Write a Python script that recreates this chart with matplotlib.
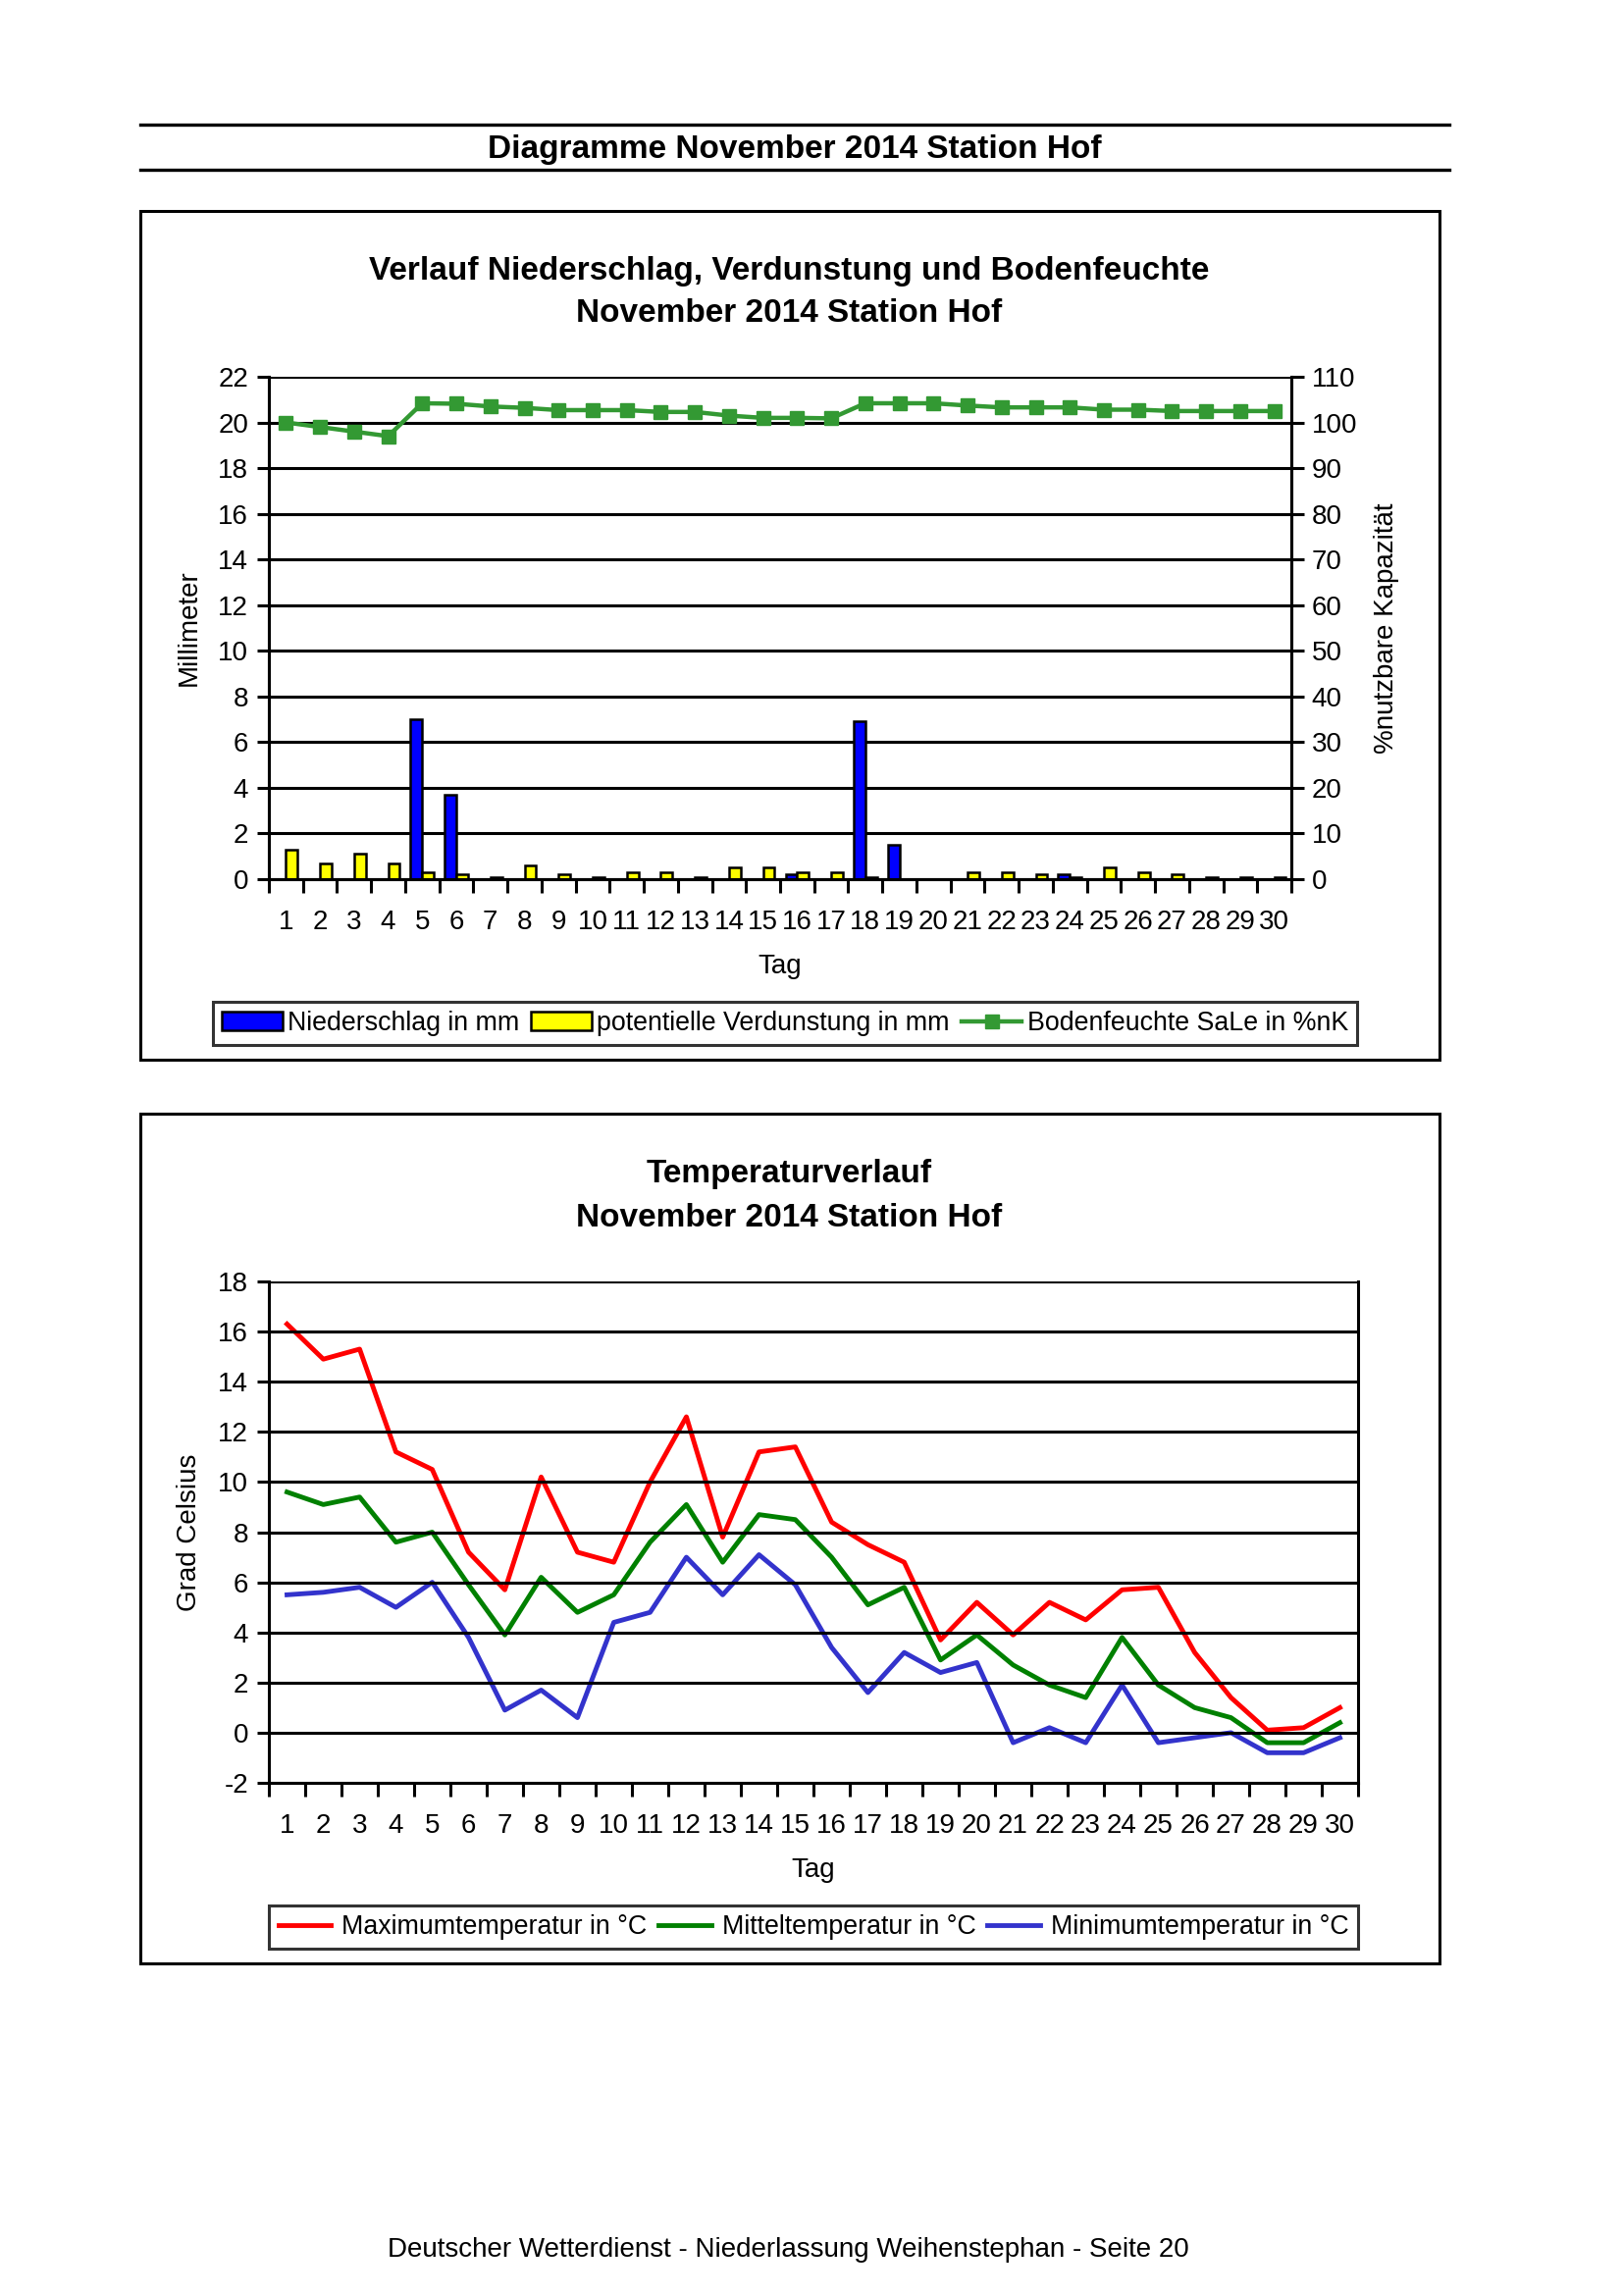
import matplotlib
matplotlib.use("Agg")
import matplotlib.pyplot as plt
from matplotlib.patches import Rectangle
from matplotlib.lines import Line2D
import numpy as np

plt.rcParams['font.family'] = ['Liberation Sans', 'DejaVu Sans']
plt.rcParams['axes.unicode_minus'] = False

# ---------------- data ----------------
days = list(range(1, 31))
niederschlag = [0, 0, 0, 0, 7.0, 3.7, 0, 0, 0, 0,
                0, 0, 0, 0, 0, 0.2, 0, 6.9, 1.5, 0,
                0, 0, 0, 0.2, 0, 0, 0, 0, 0, 0]
verdunstung = [1.3, 0.7, 1.1, 0.7, 0.3, 0.2, 0.1, 0.6, 0.2, 0.1,
               0.3, 0.3, 0.1, 0.5, 0.5, 0.3, 0.3, 0.1, 0.0, 0.0,
               0.3, 0.3, 0.2, 0.1, 0.5, 0.3, 0.2, 0.1, 0.1, 0.1]
bodenfeuchte = [100, 99, 98, 97, 104.2, 104.1, 103.5, 103.2, 102.7, 102.7,
                102.7, 102.3, 102.3, 101.5, 101, 101, 100.9, 104.2, 104.2, 104.2,
                103.7, 103.3, 103.3, 103.3, 102.8, 102.8, 102.5, 102.5, 102.5, 102.5]

t_max = [16.3, 14.9, 15.3, 11.2, 10.5, 7.2, 5.7, 10.2, 7.2, 6.8,
         10.0, 12.6, 7.8, 11.2, 11.4, 8.4, 7.5, 6.8, 3.7, 5.2,
         3.9, 5.2, 4.5, 5.7, 5.8, 3.2, 1.4, 0.1, 0.2, 1.0]
t_mit = [9.6, 9.1, 9.4, 7.6, 8.0, 5.9, 3.9, 6.2, 4.8, 5.5,
         7.6, 9.1, 6.8, 8.7, 8.5, 7.0, 5.1, 5.8, 2.9, 3.9,
         2.7, 1.9, 1.4, 3.8, 1.9, 1.0, 0.6, -0.4, -0.4, 0.4]
t_min = [5.5, 5.6, 5.8, 5.0, 6.0, 3.8, 0.9, 1.7, 0.6, 4.4,
         4.8, 7.0, 5.5, 7.1, 5.9, 3.4, 1.6, 3.2, 2.4, 2.8,
         -0.4, 0.2, -0.4, 1.9, -0.4, -0.2, 0.0, -0.8, -0.8, -0.2]

W, H = 1653, 2340
fig = plt.figure(figsize=(W / 100, H / 100), dpi=100)


def fx(x):
    return x / W


def fy(y):
    return 1 - y / H


def frame_rect(x0, y0, x1, y1, lw=2.2):
    fig.patches.append(Rectangle((fx(x0), fy(y1)), fx(x1) - fx(x0), fy(y0) - fy(y1),
                                 transform=fig.transFigure, fill=False,
                                 edgecolor='black', linewidth=lw))


def hline(x0, x1, y, lw=2.4):
    fig.add_artist(Line2D([fx(x0), fx(x1)], [fy(y), fy(y)], transform=fig.transFigure,
                          color='black', linewidth=lw))


TITLE_FS = 24
TICK_FS = 20
LEG_FS = 19.3
GRID_LW = 2.2
TEMP_LW = 3.5

# Header
hline(143, 1477, 127)
hline(143, 1477, 173)
fig.text(fx(810), fy(153), "Diagramme November 2014 Station Hof", ha='center', va='center',
         fontsize=TITLE_FS, fontweight='bold')

# Boxes
frame_rect(143, 215, 1467, 1080)
frame_rect(143, 1135, 1467, 2001)


def style_cat_axis(ax):
    ax.set_xlim(0.5, 30.5)
    ax.set_xticks(days)
    ax.set_xticklabels([str(d) for d in days], fontsize=TICK_FS)
    ax.tick_params(axis='x', which='major', length=0, pad=22)
    ax.set_xticks(np.arange(0.5, 31, 1), minor=True)
    ax.tick_params(axis='x', which='minor', length=10, width=GRID_LW, direction='out')
    ax.tick_params(axis='y', length=9, width=GRID_LW, direction='out', labelsize=TICK_FS, pad=6)
    ax.yaxis.grid(True, color='black', linewidth=GRID_LW)
    ax.set_axisbelow(False)
    for s in ['left', 'bottom', 'right', 'top']:
        ax.spines[s].set_linewidth(GRID_LW)
    ax.spines['top'].set_visible(False)


# ---------------- Chart 1 ----------------
fig.text(fx(804), fy(276), "Verlauf Niederschlag, Verdunstung und Bodenfeuchte", ha='center',
         va='center', fontsize=TITLE_FS, fontweight='bold')
fig.text(fx(804), fy(319), "November 2014 Station Hof", ha='center', va='center',
         fontsize=TITLE_FS, fontweight='bold')

ax1 = fig.add_axes([fx(274), fy(896), fx(1316) - fx(274), fy(384) - fy(896)])
x = np.array(days)
bw = 0.34
b1 = ax1.bar(x - bw / 2, niederschlag, width=bw, color='#0000FF', edgecolor='black',
             linewidth=1.8, label='Niederschlag in mm', zorder=3)
b2 = ax1.bar(x + bw / 2, verdunstung, width=bw, color='#FFFF00', edgecolor='black',
             linewidth=1.8, label='potentielle Verdunstung in mm', zorder=3)
ax1.set_ylim(0, 22)
ax1.set_yticks(range(0, 23, 2))
style_cat_axis(ax1)
ax1.set_ylabel("Millimeter", fontsize=TICK_FS, labelpad=12)
ax1.set_xlabel("Tag", fontsize=TICK_FS, labelpad=14)

ax1r = ax1.twinx()
l1, = ax1r.plot(x, bodenfeuchte, color='#339933', linewidth=3.2, marker='s', markersize=10,
                label='Bodenfeuchte SaLe in %nK', zorder=4)
ax1r.set_ylim(0, 110)
ax1r.set_yticks(range(0, 111, 10))
ax1r.tick_params(axis='y', length=9, width=GRID_LW, direction='out', labelsize=TICK_FS, pad=6)
for s in ['left', 'bottom', 'right', 'top']:
    ax1r.spines[s].set_linewidth(GRID_LW)
ax1r.spines['top'].set_visible(False)
ax1r.set_ylabel("%nutzbare Kapazität", fontsize=TICK_FS, labelpad=12)

leg1 = fig.legend(handles=[b1, b2, l1], loc='center', bbox_to_anchor=(fx(800), fy(1043)),
                  ncol=3, fontsize=LEG_FS, frameon=True, fancybox=False, edgecolor='black',
                  handlelength=2.3, handletextpad=0.2, columnspacing=0.45, borderpad=0.35)
leg1.get_frame().set_linewidth(2.2)

# ---------------- Chart 2 ----------------
fig.text(fx(804), fy(1197), "Temperaturverlauf", ha='center', va='center',
         fontsize=TITLE_FS, fontweight='bold')
fig.text(fx(804), fy(1241), "November 2014 Station Hof", ha='center', va='center',
         fontsize=TITLE_FS, fontweight='bold')

ax2 = fig.add_axes([fx(274), fy(1817), fx(1384) - fx(274), fy(1306) - fy(1817)])
p1, = ax2.plot(x, t_max, color='#FF0000', linewidth=TEMP_LW, label='Maximumtemperatur in °C')
p2, = ax2.plot(x, t_mit, color='#008000', linewidth=TEMP_LW, label='Mitteltemperatur in °C')
p3, = ax2.plot(x, t_min, color='#3333CC', linewidth=TEMP_LW, label='Minimumtemperatur in °C')
ax2.set_ylim(-2, 18)
ax2.set_yticks(range(-2, 19, 2))
style_cat_axis(ax2)
ax2.set_ylabel("Grad Celsius", fontsize=TICK_FS, labelpad=12)
ax2.set_xlabel("Tag", fontsize=TICK_FS, labelpad=14)

leg2 = fig.legend(handles=[p1, p2, p3], loc='center', bbox_to_anchor=(fx(829), fy(1964)),
                  ncol=3, fontsize=LEG_FS, frameon=True, fancybox=False, edgecolor='black',
                  handlelength=2.0, handletextpad=0.4, columnspacing=0.45, borderpad=0.35)
leg2.get_frame().set_linewidth(2.2)

# Footer
fig.text(fx(803), fy(2293), "Deutscher Wetterdienst - Niederlassung Weihenstephan - Seite 20",
         ha='center', va='center', fontsize=20)

fig.savefig("out.png", dpi=100)
